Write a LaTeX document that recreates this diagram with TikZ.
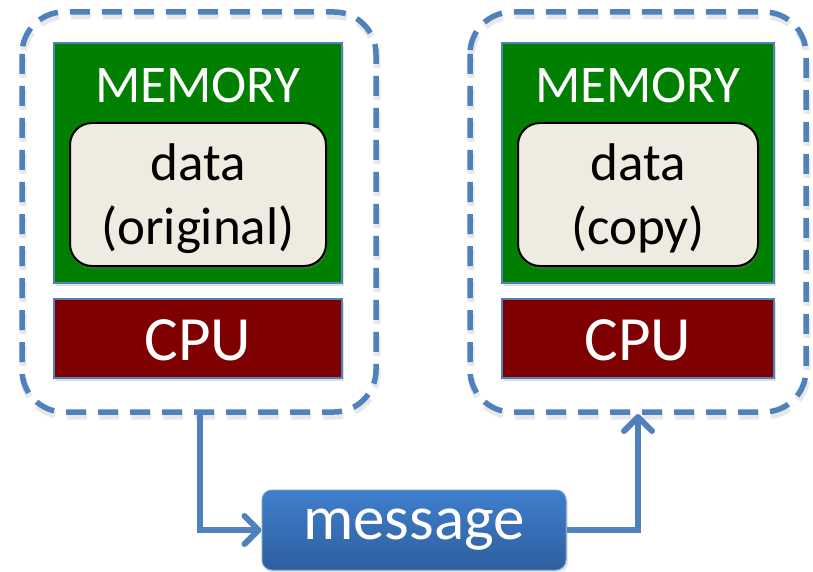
\documentclass[tikz,border=0pt]{standalone}
\usepackage{fontspec}
\setmainfont{Carlito}
\usetikzlibrary{arrows.meta,shadows}
\definecolor{accent}{HTML}{4F81BD}
\definecolor{memgreen}{HTML}{007F00}
\definecolor{cpured}{HTML}{7F0000}
\definecolor{datafill}{HTML}{EEECE1}
\definecolor{msgtop}{HTML}{3F7FCC}
\definecolor{msgbot}{HTML}{2E5E9E}
\tikzset{
  nodebox/.style={draw=accent, line width=5.5pt, dash pattern=on 20pt off 12pt, rounded corners=42pt, line cap=butt},
  nodeshadow/.style={draw=black!9, line width=7pt, dash pattern=on 20pt off 12pt, rounded corners=42pt},
  membox/.style={draw=accent, line width=1.5pt, fill=memgreen, drop shadow={opacity=0.25, shadow xshift=2pt, shadow yshift=-3pt}},
  cpubox/.style={draw=accent, line width=1.5pt, fill=cpured, drop shadow={opacity=0.25, shadow xshift=2pt, shadow yshift=-3pt}},
  databox/.style={draw=black, line width=2pt, fill=datafill, rounded corners=22pt, drop shadow={opacity=0.3, shadow xshift=1pt, shadow yshift=-3pt}},
  msgbox/.style={draw=accent!80, line width=1pt, top color=msgtop, bottom color=msgbot, rounded corners=10pt, drop shadow={opacity=0.2, shadow xshift=2pt, shadow yshift=-3pt}},
  wlabel/.style={text=white, anchor=base, inner sep=0pt},
  blabel/.style={text=black, anchor=base, inner sep=0pt},
  link/.style={draw=accent, line width=6pt, line join=miter, -{Straight Barb[length=14pt, width=28pt, line width=6pt, round]}},
}
\begin{document}
\begin{tikzpicture}[x=1pt, y=-1pt]
\useasboundingbox (0,0) rectangle (813,572);
% shadows of the dashed outlines
\draw[nodeshadow] (23,16) rectangle (377,416);
\draw[nodeshadow] (471,16) rectangle (807,416);
% left node
\draw[nodebox] (22,12) rectangle (376,412);
\node[membox, minimum width=288pt, minimum height=240pt, inner sep=0pt] (memL) at (198,163) {};
\node[databox, minimum width=256pt, minimum height=143pt, inner sep=0pt] (dataL) at (198,194.5) {};
\node[cpubox, minimum width=288pt, minimum height=79pt, inner sep=0pt] (cpuL) at (198,338.5) {};
\node[wlabel, font=\fontsize{53}{53}\selectfont] (memtxtL) at (198,103) {MEMORY};
\node[blabel, font=\fontsize{53}{53}\selectfont] (d1L) at (198,180) {data};
\node[blabel, font=\fontsize{53}{53}\selectfont] (d2L) at (198,244) {(original)};
\node[wlabel, font=\fontsize{63}{63}\selectfont] (cputxtL) at (198,360) {CPU};
% right node
\draw[nodebox] (470,12) rectangle (806,412);
\node[membox, minimum width=272pt, minimum height=240pt, inner sep=0pt] (memR) at (638,163) {};
\node[databox, minimum width=240pt, minimum height=143pt, inner sep=0pt] (dataR) at (638,194.5) {};
\node[cpubox, minimum width=272pt, minimum height=79pt, inner sep=0pt] (cpuR) at (638,338.5) {};
\node[wlabel, font=\fontsize{53}{53}\selectfont] (memtxtR) at (638,103) {MEMORY};
\node[blabel, font=\fontsize{53}{53}\selectfont] (d1R) at (638,180) {data};
\node[blabel, font=\fontsize{53}{53}\selectfont] (d2R) at (638,244) {(copy)};
\node[wlabel, font=\fontsize{63}{63}\selectfont] (cputxtR) at (638,360) {CPU};
% message
\node[msgbox, minimum width=304pt, minimum height=80pt, inner sep=0pt, text=white, font=\fontsize{63}{63}\selectfont] (msg) at (414,530) {\raisebox{4pt}{message}};
\coordinate (outL) at (200,410);
\coordinate (inR) at (638,414);
\draw[link] (outL) |- (msg.west);
\draw[link] (msg.east) -| (inR);
\end{tikzpicture}
\end{document}
